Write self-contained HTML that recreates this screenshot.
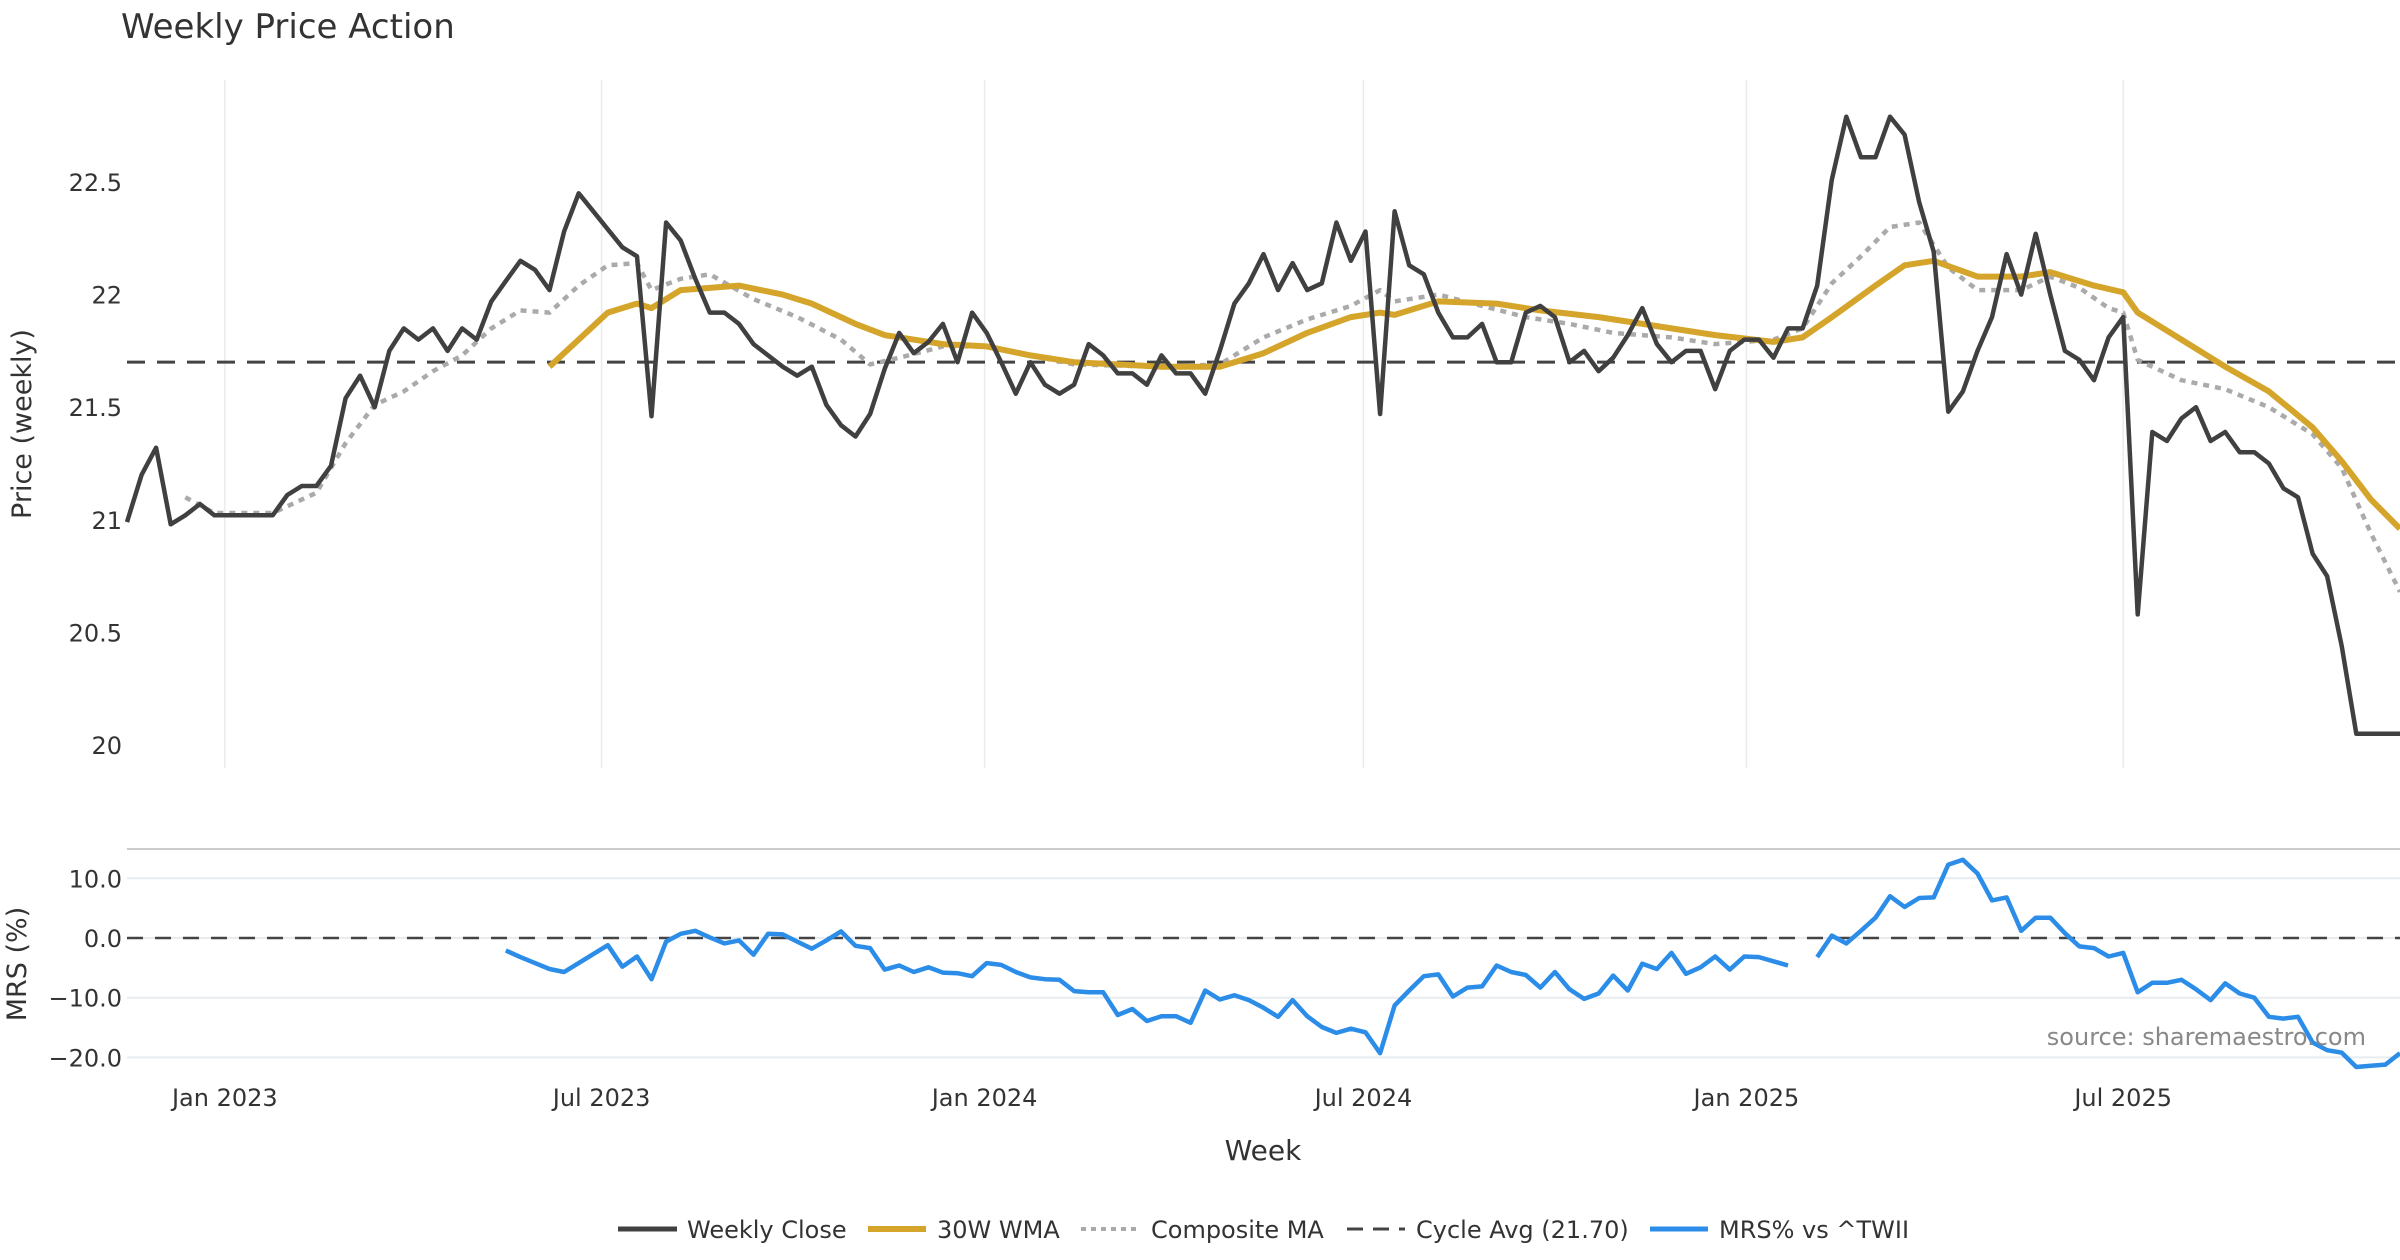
<!DOCTYPE html>
<html><head><meta charset="utf-8"><title>Weekly Price Action</title>
<style>
html,body{margin:0;padding:0;background:#fff;}
svg{display:block;font-family:"DejaVu Sans","Liberation Sans",sans-serif;}
</style></head>
<body>
<svg id="chart" width="2400" height="1260" viewBox="0 0 2400 1260" xmlns="http://www.w3.org/2000/svg">
<text x="121" y="38" font-size="34" fill="#333">Weekly Price Action</text>
<g id="price-grid"></g>
<g id="price-axis"></g>
<text transform="translate(31,424) rotate(-90)" text-anchor="middle" font-size="27" fill="#333">Price (weekly)</text>
<g id="price-series"></g>
<line x1="127" y1="849" x2="2400" y2="849" stroke="#ccc" stroke-width="2"/>
<g id="mrs-grid"></g>
<g id="mrs-axis"></g>
<text transform="translate(26,964) rotate(-90)" text-anchor="middle" font-size="27" fill="#333">MRS (%)</text>
<g id="mrs-series"></g>
<text x="2366" y="1045" text-anchor="end" font-size="24" fill="#888">source: sharemaestro.com</text>
<g id="x-axis"></g>
<text x="1263" y="1160" text-anchor="middle" font-size="28" fill="#333">Week</text>
<g id="legend">
  <g>
    <line x1="618" y1="1229" x2="677" y2="1229" stroke="#404040" stroke-width="5"/>
    <text x="687" y="1238" font-size="24" fill="#333">Weekly Close</text>
  </g>
  <g>
    <line x1="868" y1="1229" x2="926" y2="1229" stroke="#D4A52A" stroke-width="6"/>
    <text x="937" y="1238" font-size="24" fill="#333">30W WMA</text>
  </g>
  <g>
    <line x1="1081" y1="1229" x2="1139" y2="1229" stroke="#aaa" stroke-width="4" stroke-dasharray="5 5"/>
    <text x="1151" y="1238" font-size="24" fill="#333">Composite MA</text>
  </g>
  <g>
    <line x1="1347" y1="1229" x2="1405" y2="1229" stroke="#444" stroke-width="3" stroke-dasharray="16 10"/>
    <text x="1416" y="1238" font-size="24" fill="#333">Cycle Avg (21.70)</text>
  </g>
  <g>
    <line x1="1650" y1="1229" x2="1708" y2="1229" stroke="#2B8DE8" stroke-width="5"/>
    <text x="1719" y="1238" font-size="24" fill="#333">MRS% vs ^TWII</text>
  </g>
</g>
</svg>
<script>
const startDate = "2022-11-15";
const closeValues = [20.99,21.20,21.32,20.98,21.02,21.07,21.02,21.02,21.02,21.02,21.02,21.11,21.15,21.15,21.24,21.54,21.64,21.50,
21.75,21.85,21.80,21.85,21.75,21.85,21.80,21.97,22.06,22.15,22.11,22.02,22.28,22.45,22.37,22.29,22.21,22.17,
21.46,22.32,22.24,22.07,21.92,21.92,21.87,21.78,21.73,21.68,21.64,21.68,21.51,21.42,21.37,21.47,21.67,21.83,
21.74,21.79,21.87,21.70,21.92,21.83,21.70,21.56,21.70,21.60,21.56,21.60,21.78,21.73,21.65,21.65,21.60,21.73,
21.65,21.65,21.56,21.75,21.96,22.05,22.18,22.02,22.14,22.02,22.05,22.32,22.15,22.28,21.47,22.37,22.13,22.09,
21.92,21.81,21.81,21.87,21.70,21.70,21.92,21.95,21.90,21.70,21.75,21.66,21.72,21.82,21.94,21.78,21.70,21.75,
21.75,21.58,21.75,21.80,21.80,21.72,21.85,21.85,22.04,22.51,22.79,22.61,22.61,22.79,22.71,22.41,22.19,21.48,
21.57,21.75,21.90,22.18,22.00,22.27,22.00,21.75,21.71,21.62,21.81,21.90,20.58,21.39,21.35,21.45,21.50,21.35,
21.39,21.30,21.30,21.25,21.14,21.10,20.85,20.75,20.44,20.05,20.05,20.05,20.05];
const wmaWeeks = [29,33,35,36,38,42,45,47,50,52,56,59,62,65,71,75,78,81,84,86,87,90,94,97,101,105,109,113,115,117,120,122,124,127,130,132,135,137,138,141,144,147,150,152,154,156];
const wmaValues = [21.68,21.92,21.96,21.94,22.02,22.04,22.00,21.96,21.87,21.82,21.78,21.77,21.73,21.70,21.68,21.68,21.74,21.83,21.90,21.92,21.91,21.97,21.96,21.93,21.90,21.86,21.82,21.79,21.81,21.90,22.04,22.13,22.15,22.08,22.08,22.10,22.04,22.01,21.92,21.80,21.68,21.57,21.41,21.26,21.09,20.96];
const compWeeks = [4,6,10,13,15,17,19,21,23,25,27,29,31,33,35,36,38,40,43,46,49,51,53,56,59,62,65,71,75,78,81,84,86,87,90,93,96,99,102,106,109,113,115,117,119,121,123,125,127,130,132,134,136,137,138,141,144,147,150,152,154,156];
const compValues = [21.10,21.03,21.03,21.12,21.34,21.51,21.57,21.66,21.73,21.85,21.93,21.92,22.04,22.13,22.14,22.02,22.07,22.09,21.98,21.90,21.80,21.69,21.72,21.77,21.77,21.73,21.69,21.68,21.69,21.81,21.89,21.95,22.02,21.97,22.00,21.95,21.90,21.87,21.83,21.81,21.78,21.80,21.85,22.05,22.17,22.30,22.32,22.12,22.02,22.02,22.08,22.03,21.94,21.92,21.71,21.62,21.58,21.50,21.38,21.23,20.94,20.68];
const cycleAvg = 21.70;
const mrsStartWeek = 26;
const mrsValues = [-2.1,-3.2,-4.2,-5.2,-5.7,-4.2,-2.7,-1.2,-4.8,-3.1,-6.9,-0.6,0.7,1.2,0.1,-0.9,-0.4,-2.8,0.7,0.6,
-0.6,-1.8,-0.4,1.1,-1.3,-1.7,-5.3,-4.6,-5.7,-4.9,-5.8,-5.9,-6.4,-4.2,-4.5,-5.7,-6.6,-6.9,-7.0,-8.9,
-9.1,-9.1,-12.9,-11.9,-13.9,-13.1,-13.1,-14.2,-8.8,-10.3,-9.6,-10.4,-11.7,-13.2,-10.4,-13.1,-14.9,-15.9,-15.2,-15.8,
-19.3,-11.3,-8.8,-6.4,-6.1,-9.8,-8.3,-8.1,-4.6,-5.7,-6.2,-8.3,-5.7,-8.6,-10.2,-9.3,-6.3,-8.8,-4.3,-5.2,
-2.5,-6.0,-4.9,-3.1,-5.3,-3.1,-3.2,-3.9,-4.6,null,-3.2,0.4,-0.9,1.2,3.4,7.0,5.2,6.7,6.8,12.3,
13.1,10.8,6.3,6.8,1.2,3.4,3.4,0.8,-1.4,-1.7,-3.1,-2.5,-9.1,-7.5,-7.5,-7.0,-8.6,-10.4,-7.6,-9.3,
-10.0,-13.2,-13.5,-13.2,-17.5,-18.8,-19.2,-21.6,-21.4,-21.2,-19.3];
const priceTicks = [20,20.5,21,21.5,22,22.5];
const priceTickLabels = ["20","20.5","21","21.5","22","22.5"];
const mrsTicks = [10,0,-10,-20];
const mrsTickLabels = ["10.0","0.0","\u221210.0","\u221220.0"];
const xTickDates = ["2023-01-01","2023-07-01","2024-01-01","2024-07-01","2025-01-01","2025-07-01"];
const xTickLabels = ["Jan 2023","Jul 2023","Jan 2024","Jul 2024","Jan 2025","Jul 2025"];

const NS = "http://www.w3.org/2000/svg";
const X0 = 127, X1 = 2400, NW = closeValues.length - 1;
function xScale(i){ return X0 + i * (X1 - X0) / NW; }
function yPrice(v){ return 745 - (v - 20) * 225.2; }
function yMrs(v){ return 938 - v * 5.97; }
function weekIndexOfDate(d){ return (new Date(d) - new Date(startDate)) / (7*86400000); }
function mk(tag, attrs, parent){ const e = document.createElementNS(NS, tag); for (const k in attrs) e.setAttribute(k, attrs[k]); parent.appendChild(e); return e; }

const pg = document.getElementById("price-grid"), pa = document.getElementById("price-axis");
const ps = document.getElementById("price-series"), mg = document.getElementById("mrs-grid");
const ma = document.getElementById("mrs-axis"), ms = document.getElementById("mrs-series");
const xa = document.getElementById("x-axis");

xTickDates.forEach((d, k) => {
  const x = xScale(weekIndexOfDate(d));
  const gl = mk("line", {x1:x, x2:x, y1:80, y2:768, stroke:"#e8ecef", "stroke-width":1.5}, pg);
  
  
  const t = mk("text", {x:x, y:1106, "text-anchor":"middle", "font-size":24, fill:"#333"}, xa);
  t.textContent = xTickLabels[k];
  
  
});
priceTicks.forEach((v, k) => {
  const t = mk("text", {x:122, y:yPrice(v) + 9, "text-anchor":"end", "font-size":24, fill:"#333"}, pa);
  t.textContent = priceTickLabels[k];
  
  
});
mrsTicks.forEach((v, k) => {
  const gl = mk("line", {x1:X0, x2:X1, y1:yMrs(v), y2:yMrs(v), stroke:"#e8ecef", "stroke-width":2}, mg);
  
  
  const t = mk("text", {x:122, y:yMrs(v) + 9, "text-anchor":"end", "font-size":24, fill:"#333"}, ma);
  t.textContent = mrsTickLabels[k];
  
  
});

const cyc = mk("line", {x1:X0, x2:X1, y1:yPrice(cycleAvg), y2:yPrice(cycleAvg), stroke:"#444", "stroke-width":3, "stroke-dasharray":"18 12"}, ps);



function pathFrom(idx, vals, yf){
  let d = "", pen = false;
  vals.forEach((v, k) => {
    if (v === null || v === undefined) { pen = false; return; }
    d += (pen ? "L" : "M") + xScale(idx(k)).toFixed(1) + "," + yf(v).toFixed(1);
    pen = true;
  });
  return d;
}
const comp = mk("path", {d:pathFrom(k => compWeeks[k], compValues, yPrice), fill:"none", stroke:"#aaa", "stroke-width":4.5, "stroke-dasharray":"6 6", "stroke-linejoin":"round"}, ps);


const wma = mk("path", {d:pathFrom(k => wmaWeeks[k], wmaValues, yPrice), fill:"none", stroke:"#D4A52A", "stroke-width":6, "stroke-linejoin":"round"}, ps);


const cl = mk("path", {d:pathFrom(k => k, closeValues, yPrice), fill:"none", stroke:"#404040", "stroke-width":4.5, "stroke-linejoin":"round"}, ps);



const zl = mk("line", {x1:X0, x2:X1, y1:yMrs(0), y2:yMrs(0), stroke:"#444", "stroke-width":2.5, "stroke-dasharray":"16 12"}, ms);


const mrs = mk("path", {d:pathFrom(k => mrsStartWeek + k, mrsValues, yMrs), fill:"none", stroke:"#2B8DE8", "stroke-width":4.5, "stroke-linejoin":"round"}, ms);


</script>
</body></html>
